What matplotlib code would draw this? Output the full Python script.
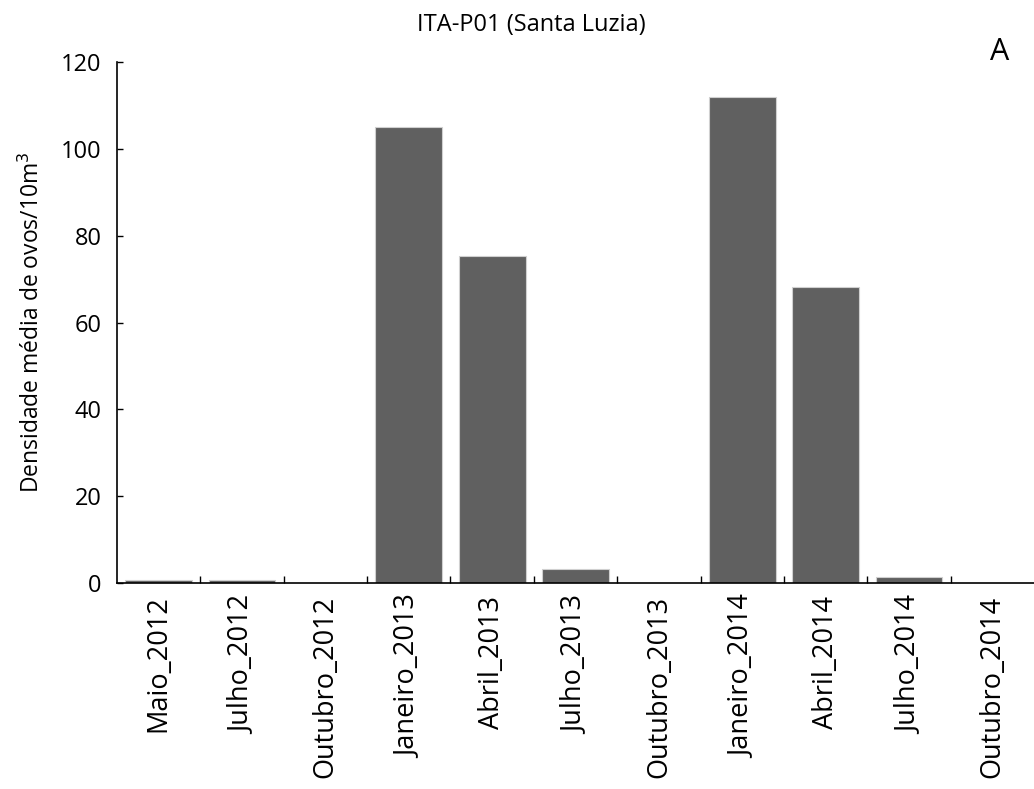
import numpy as np
import matplotlib
matplotlib.use('Agg')
import matplotlib.pyplot as plt

plt.rcParams['font.family'] = ['Open Sans', 'DejaVu Sans']

categorias = ['Maio_2012', 'Julho_2012', 'Outubro_2012', 'Janeiro_2013', 'Abril_2013',
              'Julho_2013', 'Outubro_2013', 'Janeiro_2014', 'Abril_2014', 'Julho_2014',
              'Outubro_2014']
densidade = [0.7, 0.7, 0.0, 105.0, 75.4, 3.2, 0.0, 112.0, 68.3, 1.5, 0.0]
yticks = [0, 20, 40, 60, 80, 100, 120]

fig = plt.figure(figsize=(10.34, 7.89), dpi=100)
ax = fig.add_axes([0.1132, 0.261, 0.8868, 0.66])

x = np.arange(len(categorias))
ax.bar(x, densidade, width=0.8, color='#606060', edgecolor='#d0d0d0', linewidth=0.8)

ax.set_xlim(-0.5, len(categorias) - 0.5)
ax.set_ylim(0, 120)
ax.set_yticks(yticks)
ax.set_yticklabels([str(v) for v in yticks], fontsize=17)
ax.set_xticks(x)
ax.set_xticklabels(categorias, rotation=90, fontsize=19.5)
ax.tick_params(axis='x', length=0, pad=9)
ax.set_xticks(x[:-1] + 0.5, minor=True)
ax.tick_params(axis='x', which='minor', direction='in', length=5, width=1)
ax.tick_params(axis='y', direction='in', length=4, width=1, pad=11)

for s in ['top', 'right']:
    ax.spines[s].set_visible(False)
ax.spines['left'].set_linewidth(1.2)
ax.spines['bottom'].set_linewidth(1.2)

fig.text(0.031, 0.591, 'Densidade média de ovos/10m$^3$', rotation=90,
         ha='center', va='center', fontsize=16.5)
fig.text(0.514, 0.968, 'ITA-P01 (Santa Luzia)', ha='center', va='center', fontsize=17)
fig.text(0.967, 0.934, 'A', ha='center', va='center', fontsize=22)

fig.savefig('out.png', dpi=100)
